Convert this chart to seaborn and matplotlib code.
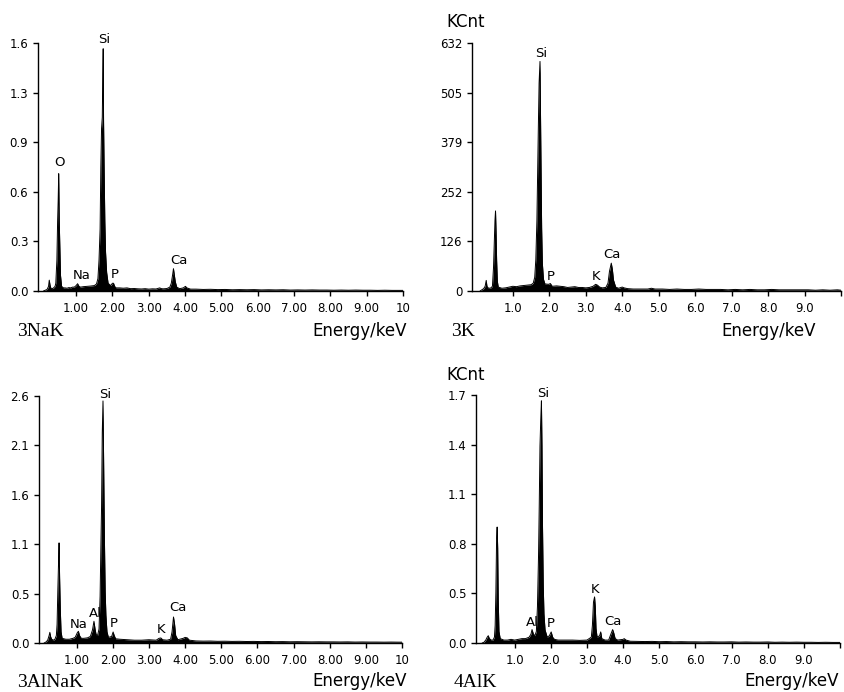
import numpy as np
import pandas as pd
import matplotlib
matplotlib.use("Agg")
import matplotlib.pyplot as plt
import seaborn as sns

# ---------------- data ----------------
# Panel 1: 3NaK  (y in units, axis top 1.6)
e_3nak = [0.10, 0.15, 0.20, 0.24, 0.26, 0.28, 0.30, 0.34, 0.38, 0.42, 0.44, 0.47, 0.49, 0.505, 0.52,
          0.535, 0.55, 0.57, 0.60, 0.65, 0.70, 0.75, 0.80, 0.85, 0.90, 0.95, 1.00, 1.04,
          1.08, 1.12, 1.20, 1.30, 1.40, 1.50, 1.56, 1.60, 1.63, 1.66, 1.68, 1.70, 1.72, 1.735, 1.745,
          1.755, 1.77, 1.79, 1.81, 1.84, 1.88, 1.95, 2.00, 2.03, 2.06, 2.10, 2.20, 2.30, 2.40, 2.50,
          2.60, 2.70, 2.80, 2.90, 3.00, 3.10, 3.20, 3.30, 3.35, 3.40, 3.50, 3.58, 3.62, 3.66, 3.68, 3.70,
          3.73, 3.77, 3.85, 3.95, 4.01, 4.05, 4.15, 4.30, 4.50, 4.70, 4.90, 5.10, 5.30, 5.50, 5.70,
          5.90, 6.10, 6.30, 6.50, 6.70, 6.90, 7.10, 7.30, 7.50, 7.70, 7.90, 8.10, 8.30, 8.50, 8.70,
          8.90, 9.10, 9.30, 9.50, 9.70, 9.90, 10.0]
c_3nak = [0.000, 0.005, 0.010, 0.030, 0.070, 0.040, 0.020, 0.015, 0.020, 0.030, 0.050, 0.200, 0.450, 0.580, 0.757,
          0.450, 0.300, 0.100, 0.030, 0.020, 0.020, 0.018, 0.022, 0.020, 0.025, 0.025, 0.035, 0.047,
          0.030, 0.025, 0.028, 0.030, 0.032, 0.035, 0.045, 0.080, 0.200, 0.400, 0.800, 1.050, 1.120, 1.400, 1.563,
          1.100, 0.800, 0.450, 0.250, 0.120, 0.050, 0.035, 0.050, 0.050, 0.030, 0.020, 0.020, 0.018, 0.020, 0.015,
          0.016, 0.014, 0.013, 0.015, 0.012, 0.014, 0.013, 0.020, 0.015, 0.014, 0.016, 0.025, 0.050, 0.110, 0.144, 0.110,
          0.060, 0.025, 0.015, 0.020, 0.030, 0.020, 0.012, 0.012, 0.010, 0.011, 0.009, 0.010, 0.008, 0.009, 0.008,
          0.009, 0.007, 0.008, 0.007, 0.008, 0.006, 0.007, 0.006, 0.007, 0.006, 0.006, 0.005, 0.006, 0.005, 0.006,
          0.005, 0.005, 0.004, 0.005, 0.004, 0.004, 0.004]

# Panel 2: 3K  (KCnt, axis top 632)
e_3k = [0.10, 0.15, 0.20, 0.24, 0.27, 0.29, 0.32, 0.36, 0.40, 0.44, 0.47, 0.49, 0.51, 0.525, 0.54,
        0.555, 0.575, 0.60, 0.70, 0.80, 0.90, 1.00, 1.10, 1.20, 1.30, 1.40, 1.50, 1.56, 1.60, 1.63,
        1.66, 1.68, 1.70, 1.72, 1.745, 1.76, 1.775, 1.79, 1.81, 1.84, 1.88, 1.98, 2.03, 2.08, 2.20,
        2.30, 2.40, 2.50, 2.60, 2.70, 2.80, 2.90, 3.00, 3.10, 3.20, 3.27, 3.32, 3.38, 3.45, 3.55,
        3.61, 3.65, 3.70, 3.73, 3.76, 3.82, 3.90, 4.00, 4.05, 4.15, 4.30, 4.50, 4.70, 4.80, 4.90,
        5.10, 5.30, 5.50, 5.70, 5.90, 6.10, 6.30, 6.50, 6.70, 6.90, 7.10, 7.30, 7.50, 7.70, 7.90,
        8.10, 8.30, 8.50, 8.70, 8.90, 9.10, 9.30, 9.50, 9.70, 9.90, 10.0]
c_3k = [0, 3, 6, 12, 27, 12, 8, 7, 8, 12, 60, 120, 180, 204, 150,
        80, 25, 10, 7, 8, 10, 12, 11, 13, 14, 15, 16, 20, 35, 80,
        180, 300, 420, 530, 585, 440, 300, 160, 70, 30, 18, 17, 19, 12, 13,
        12, 11, 9, 10, 11, 9, 9, 8, 9, 12, 17, 15, 10, 8, 9,
        20, 50, 71, 55, 28, 10, 7, 10, 8, 6, 5, 5, 5, 7, 5,
        5, 4, 5, 4, 4, 5, 4, 4, 4, 3, 4, 3, 4, 3, 3,
        4, 3, 3, 3, 3, 3, 2, 3, 2, 3, 2]

# Panel 3: 3AlNaK  (axis top 2.6)
e_3alnak = [0.10, 0.15, 0.20, 0.24, 0.26, 0.28, 0.31, 0.36, 0.40, 0.44, 0.46, 0.48, 0.50, 0.515, 0.53,
            0.55, 0.57, 0.60, 0.70, 0.80, 0.90, 0.96, 1.02, 1.05, 1.08, 1.13, 1.20, 1.30, 1.38, 1.44,
            1.48, 1.51, 1.54, 1.58, 1.62, 1.65, 1.67, 1.69, 1.71, 1.73, 1.75, 1.77, 1.79, 1.81, 1.84,
            1.88, 1.97, 2.01, 2.04, 2.08, 2.20, 2.40, 2.60, 2.80, 3.00, 3.20, 3.28, 3.33, 3.38, 3.50,
            3.60, 3.64, 3.68, 3.71, 3.74, 3.80, 3.95, 4.00, 4.06, 4.12, 4.30, 4.50, 4.70, 4.90, 5.10,
            5.30, 5.50, 5.70, 5.90, 6.10, 6.30, 6.50, 6.70, 6.90, 7.10, 7.30, 7.50, 7.70, 7.90, 8.10,
            8.30, 8.50, 8.70, 8.90, 9.10, 9.30, 9.50, 9.70, 9.90, 10.0]
c_3alnak = [0.000, 0.010, 0.030, 0.080, 0.114, 0.070, 0.040, 0.030, 0.040, 0.080, 0.200, 0.550, 0.850, 1.070, 0.700,
            0.350, 0.120, 0.050, 0.040, 0.040, 0.050, 0.060, 0.110, 0.125, 0.080, 0.050, 0.050, 0.055, 0.070, 0.140,
            0.232, 0.150, 0.090, 0.080, 0.150, 0.500, 1.000, 1.450, 2.250, 2.587, 1.850, 1.100, 0.550, 0.300, 0.120,
            0.060, 0.070, 0.118, 0.080, 0.045, 0.040, 0.035, 0.030, 0.030, 0.035, 0.030, 0.050, 0.054, 0.035, 0.030,
            0.040, 0.120, 0.278, 0.200, 0.080, 0.035, 0.050, 0.060, 0.055, 0.030, 0.022, 0.020, 0.021, 0.018, 0.019,
            0.017, 0.018, 0.016, 0.017, 0.015, 0.016, 0.014, 0.015, 0.013, 0.014, 0.013, 0.012, 0.013, 0.012, 0.012,
            0.011, 0.012, 0.010, 0.011, 0.010, 0.010, 0.009, 0.010, 0.009, 0.009]

# Panel 4: 4AlK  (KCnt, axis top 1.7)
e_4alk = [0.10, 0.15, 0.20, 0.24, 0.27, 0.30, 0.35, 0.40, 0.44, 0.46, 0.48, 0.50, 0.515, 0.53, 0.545,
          0.565, 0.60, 0.70, 0.80, 0.90, 1.00, 1.10, 1.20, 1.30, 1.40, 1.45, 1.48, 1.52, 1.56, 1.60,
          1.63, 1.66, 1.68, 1.70, 1.72, 1.74, 1.755, 1.77, 1.79, 1.81, 1.84, 1.90, 1.96, 2.01, 2.05,
          2.10, 2.20, 2.40, 2.60, 2.80, 3.00, 3.12, 3.15, 3.18, 3.21, 3.23, 3.25, 3.28, 3.35, 3.38,
          3.41, 3.50, 3.60, 3.66, 3.71, 3.74, 3.78, 3.85, 4.00, 4.03, 4.08, 4.20, 4.40, 4.60, 4.80,
          5.00, 5.20, 5.40, 5.60, 5.80, 6.00, 6.20, 6.40, 6.60, 6.80, 7.00, 7.20, 7.40, 7.60, 7.80,
          8.00, 8.20, 8.40, 8.60, 8.80, 9.00, 9.20, 9.40, 9.60, 9.80, 10.0]
c_4alk = [0.000, 0.005, 0.020, 0.040, 0.050, 0.030, 0.020, 0.020, 0.040, 0.120, 0.350, 0.720, 0.795, 0.650, 0.300,
          0.080, 0.030, 0.020, 0.020, 0.025, 0.020, 0.025, 0.030, 0.030, 0.040, 0.060, 0.092, 0.060, 0.050, 0.080,
          0.250, 0.600, 0.950, 1.350, 1.520, 1.660, 1.350, 0.800, 0.400, 0.200, 0.090, 0.040, 0.050, 0.076, 0.040,
          0.025, 0.020, 0.020, 0.020, 0.018, 0.020, 0.040, 0.120, 0.280, 0.316, 0.250, 0.100, 0.040, 0.050, 0.076,
          0.030, 0.020, 0.020, 0.060, 0.092, 0.070, 0.030, 0.020, 0.025, 0.030, 0.020, 0.012, 0.011, 0.010, 0.011,
          0.009, 0.010, 0.008, 0.009, 0.008, 0.008, 0.007, 0.008, 0.007, 0.007, 0.008, 0.006, 0.007, 0.006, 0.006,
          0.007, 0.005, 0.006, 0.005, 0.006, 0.005, 0.005, 0.004, 0.005, 0.004, 0.004]

# y tick labels as printed on the axes
yt_3nak = ["0.0", "0.3", "0.6", "0.9", "1.3", "1.6"]
yt_3k = ["0", "126", "252", "379", "505", "632"]
yt_3alnak = ["0.0", "0.5", "1.1", "1.6", "2.1", "2.6"]
yt_4alk = ["0.0", "0.5", "0.8", "1.1", "1.4", "1.7"]

xt_two_dec = ["1.00", "2.00", "3.00", "4.00", "5.00", "6.00", "7.00", "8.00", "9.00", "10"]
xt_one_dec = ["1.0", "2.0", "3.0", "4.0", "5.0", "6.0", "7.0", "8.0", "9.0", ""]

# peak labels: (element, energy, height)
lab_3nak = [("O", 0.53, 0.83), ("Si", 1.78, 1.62), ("Na", 1.16, 0.10), ("P", 2.07, 0.108), ("Ca", 3.82, 0.198)]
lab_3k = [("Si", 1.77, 606), ("P", 2.05, 37), ("K", 3.27, 37), ("Ca", 3.71, 93)]
lab_3alnak = [("Si", 1.78, 2.66), ("Al", 1.51, 0.32), ("Na", 1.06, 0.20), ("P", 2.03, 0.21),
              ("K", 3.33, 0.14), ("Ca", 3.81, 0.375)]
lab_4alk = [("Si", 1.78, 1.71), ("Al", 1.48, 0.142), ("P", 2.00, 0.133), ("K", 3.22, 0.367), ("Ca", 3.71, 0.147)]

# ---------------- figure ----------------
sns.set_style("white")
plt.rcParams["font.family"] = ["DejaVu Sans"]

W, H = 844, 692
fig = plt.figure(figsize=(W / 100, H / 100), dpi=100)


def px_axes(left, right, top, bottom):
    return fig.add_axes([left / W, 1 - bottom / H, (right - left) / W, (bottom - top) / H])


panels = [
    dict(e=e_3nak, c=c_3nak, ymax=1.6, yt=yt_3nak, xt=xt_two_dec, xlim=(-0.05, 10.0),
         box=(38, 403, 43, 291), labs=lab_3nak, name="3NaK", name_xy=(17, 336), en_xy=(407, 336), kcnt=None),
    dict(e=e_3k, c=c_3k, ymax=632, yt=yt_3k, xt=xt_one_dec, xlim=(-0.12, 10.0),
         box=(472, 841, 43, 291), labs=lab_3k, name="3K", name_xy=(451, 336), en_xy=(816, 336), kcnt=(446, 27)),
    dict(e=e_3alnak, c=c_3alnak, ymax=2.64, yt=yt_3alnak, xt=xt_two_dec, xlim=(-0.04, 10.0),
         box=(39, 402, 396, 643), labs=lab_3alnak, name="3AlNaK", name_xy=(17, 687), en_xy=(407, 686), kcnt=None),
    dict(e=e_4alk, c=c_4alk, ymax=1.7, yt=yt_4alk, xt=xt_one_dec, xlim=(-0.07, 10.0),
         box=(476, 840, 395, 643), labs=lab_4alk, name="4AlK", name_xy=(454, 687), en_xy=(839, 686), kcnt=(446, 380)),
]

for p in panels:
    ax = px_axes(*p["box"])
    df = pd.DataFrame({"energy": p["e"], "count": p["c"]})
    ax.fill_between(df["energy"], 0, df["count"], color="black", linewidth=0)
    sns.lineplot(data=df, x="energy", y="count", ax=ax, color="black", linewidth=0.7,
                 estimator=None, sort=False)
    ax.set_xlim(*p["xlim"])
    ax.set_ylim(0, p["ymax"])
    ax.set_yticks(np.linspace(0, p["ymax"], len(p["yt"])))
    ax.set_yticklabels(p["yt"])
    ax.set_xticks(np.arange(1, 11))
    ax.set_xticklabels(p["xt"])
    ax.set_xlabel("")
    ax.set_ylabel("")
    for s in ["top", "right"]:
        ax.spines[s].set_visible(False)
    for s in ["left", "bottom"]:
        ax.spines[s].set_color("black")
        ax.spines[s].set_linewidth(1.0)
    ax.tick_params(axis="x", direction="out", length=3.5, width=1.0, pad=4.5, labelsize=8.5,
                   colors="black", bottom=True)
    ax.tick_params(axis="y", direction="out", length=3.5, width=1.0, pad=3.5, labelsize=8.5,
                   colors="black", left=True)
    ax.set_facecolor("white")
    for txt, xe, yv in p["labs"]:
        ax.text(xe, yv, txt, ha="center", va="center", fontsize=9.5, color="black", clip_on=False)

    nx, ny = p["name_xy"]
    fig.text(nx / W, 1 - ny / H, p["name"], ha="left", va="baseline", fontsize=14,
             family="Liberation Serif", color="black")
    ex, ey = p["en_xy"]
    fig.text(ex / W, 1 - ey / H, "Energy/keV", ha="right", va="baseline", fontsize=12, color="black")
    if p["kcnt"] is not None:
        kx, ky = p["kcnt"]
        fig.text(kx / W, 1 - ky / H, "KCnt", ha="left", va="baseline", fontsize=12, color="black")

fig.savefig("out.png", dpi=100, facecolor="white")
